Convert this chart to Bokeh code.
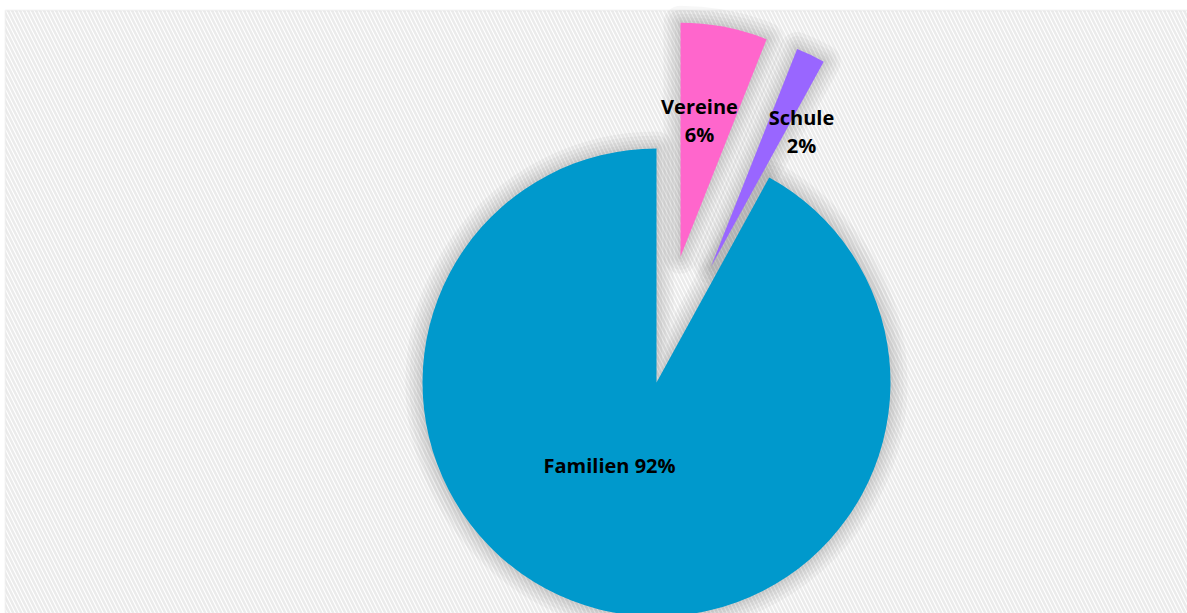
import numpy as np
from bokeh.plotting import figure
from bokeh.models import Range1d, BoxAnnotation, ColumnDataSource
from bokeh.core.properties import value
from bokeh.embed import file_html
from bokeh.resources import INLINE

# ---- data ----
categories = ["Vereine", "Schule", "Familien"]
shares = [6, 2, 92]
colors = ["#FF66CC", "#9966FF", "#0099CC"]
exploded = [True, True, False]

# ---- layout ----
W, H = 1187, 613
cx, cy = 656, H - 382
radius = 234
explode_dist = 128

vals = np.array(shares, dtype=float)
fr = vals / vals.sum()
ends = np.pi / 2 - 2 * np.pi * np.concatenate([[0], np.cumsum(fr)[:-1]])
starts = ends - 2 * np.pi * fr
mid = (starts + ends) / 2
xs = cx + np.where(exploded, explode_dist * np.cos(mid), 0)
ys = cy + np.where(exploded, explode_dist * np.sin(mid), 0)

src = ColumnDataSource(dict(x=xs, y=ys, start=starts, end=ends, color=colors, cat=categories))

p = figure(width=W, height=H, x_range=Range1d(0, W), y_range=Range1d(0, H),
           output_backend="svg", toolbar_location=None, min_border=0)
p.axis.visible = False
p.grid.visible = False
p.outline_line_color = None
p.background_fill_color = "white"
p.border_fill_color = "white"

bg = BoxAnnotation(left=5, right=W + 50, bottom=-50, top=H - 10,
                   fill_color="white", fill_alpha=1,
                   hatch_pattern="left_diagonal_line", hatch_color="#ebebeb",
                   hatch_scale=8, hatch_weight=2.5,
                   line_color="#d9d9d9", line_width=2, level="underlay")
p.add_layout(bg)

# soft shadow
for w in [34, 26, 18, 11, 5]:
    p.wedge(x="x", y="y", radius=radius, start_angle="start", end_angle="end",
            source=src, fill_alpha=0, line_color="#000000", line_alpha=0.03,
            line_width=w, line_join="round")

p.wedge(x="x", y="y", radius=radius, start_angle="start", end_angle="end",
        source=src, fill_color="color", line_color=None)

# labels
label_pos = {"Vereine": (699, [106, 134]), "Schule": (801, [117, 145]), "Familien": (609, [465])}
lx, ly, lt = [], [], []
for c, v in zip(categories, shares):
    x0, yl = label_pos[c]
    if len(yl) == 2:
        lines = [c, f"{v}%"]
    else:
        lines = [f"{c} {v}%"]
    for yy, t in zip(yl, lines):
        lx.append(x0)
        ly.append(H - yy)
        lt.append(t)

p.text(x=lx, y=ly, text=lt, text_font=value("Open Sans"), text_font_style="bold",
       text_font_size="20px", text_color="#000000", text_align="center",
       text_baseline="middle")

open("out.html", "w").write(file_html(p, INLINE))
